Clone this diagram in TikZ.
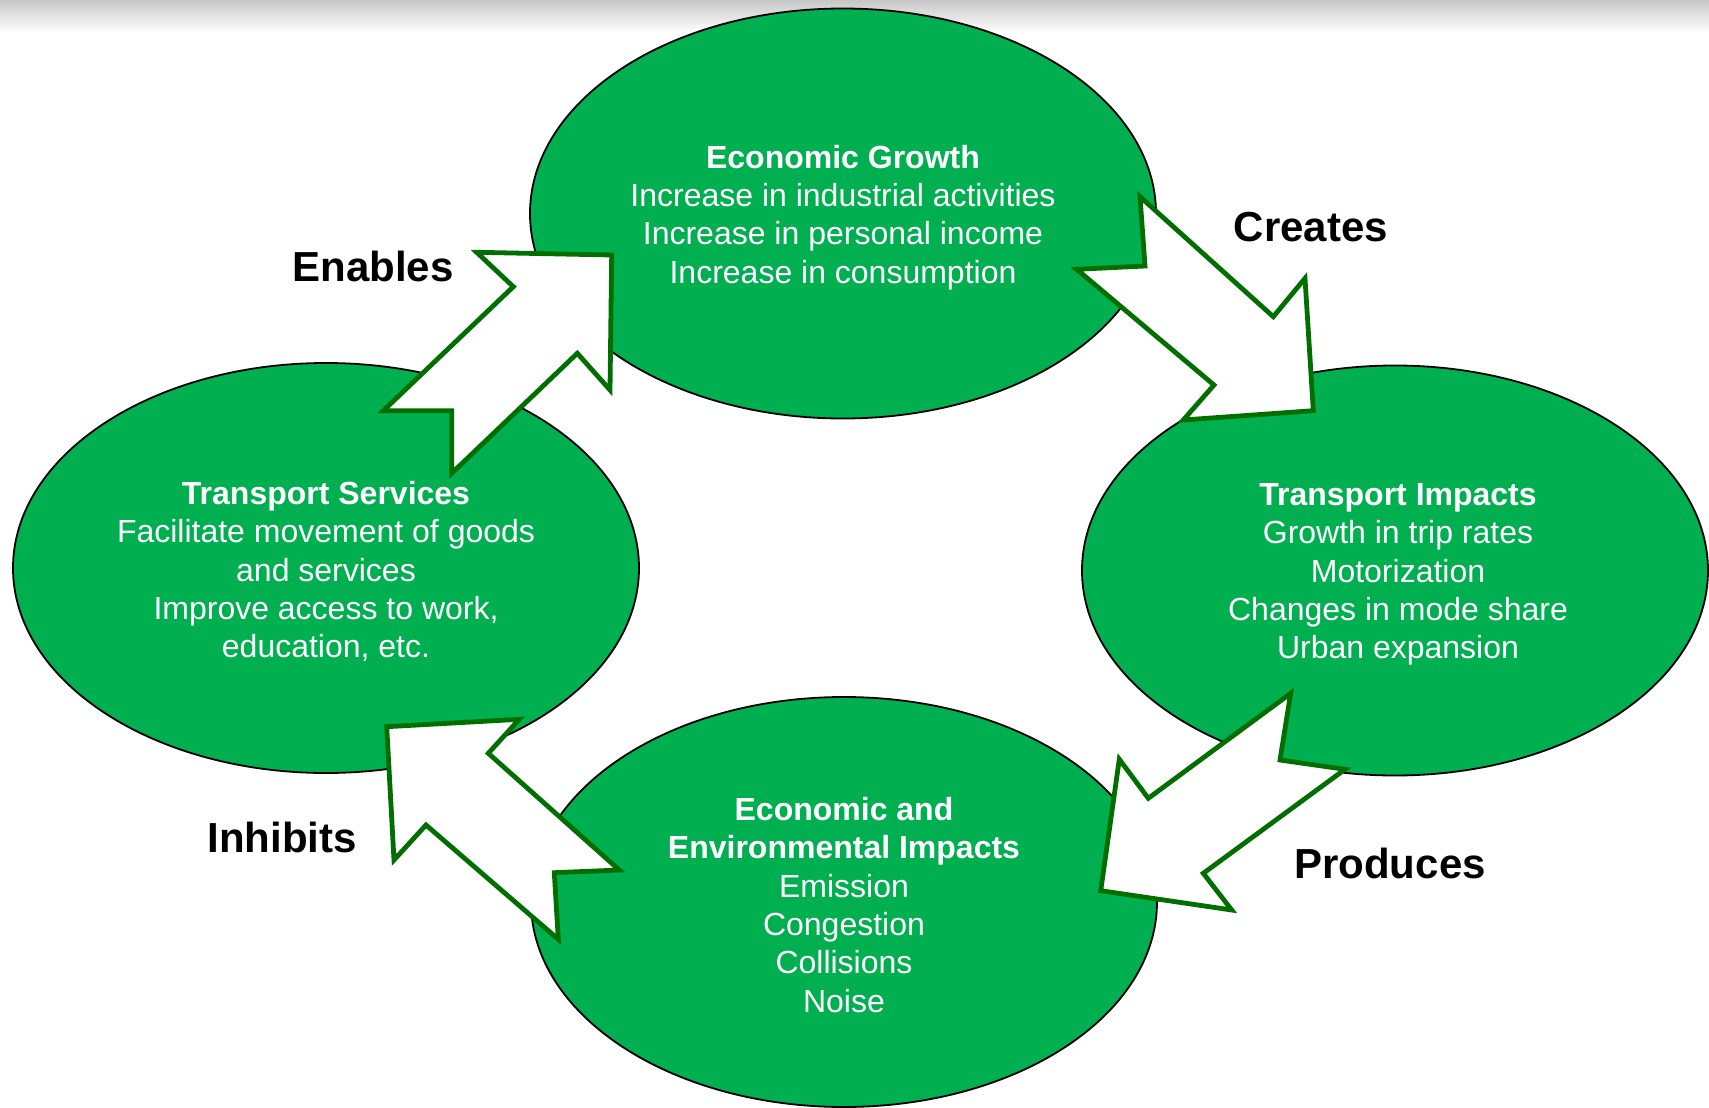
\documentclass[tikz,border=0pt]{standalone}
\usepackage{fontspec}
\setmainfont{Liberation Sans}
\usetikzlibrary{shapes.geometric}
\definecolor{leaf}{HTML}{00AF50}
\definecolor{rim}{HTML}{006F00}
\begin{document}
\begin{tikzpicture}[x=1pt,y=-1pt,
  bubble/.style={ellipse, draw=black, line width=1.8pt, fill=leaf,
    minimum width=626pt, minimum height=410pt, inner sep=0pt},
  body/.style={text=white, align=center, font=\fontsize{32}{38.3}\selectfont},
  verb/.style={text=black, font=\bfseries\fontsize{42}{50}\selectfont},
  blockarrow/.style={draw=rim, fill=white, line width=4.8pt, line join=miter}]

% canvas and top fade
\fill[white] (0,0) rectangle (1709,1108);
\useasboundingbox (0,0) rectangle (1709,1108);
\shade[top color=black!22, bottom color=white] (0,0) rectangle (1709,32);

% the four stages
\node[bubble] (growth) at (843,213.5) {};
\node[bubble] (services) at (326,568) {};
\node[bubble] (impacts) at (1395,570.5) {};
\node[bubble] (effects) at (844,902) {};

% block arrows between stages
\path[blockarrow] (476.7,252.3) -- (611.7,255) -- (610,390) -- (577.3,353.3)
  -- (451.7,473.3) -- (451.7,410.7) -- (383.3,410.7) -- (513.3,286.7) -- cycle;
\path[blockarrow] (1140,196.7) -- (1273.3,316.7) -- (1305,278.3) -- (1313.3,410.7)
  -- (1183.3,420) -- (1214,385) -- (1076.7,269.3) -- (1145,266) -- cycle;
\path[blockarrow] (1290.7,693.3) -- (1280,760) -- (1345,769.3) -- (1203.3,873.3)
  -- (1231.7,910) -- (1100.7,890.7) -- (1119.3,759.3) -- (1148.3,798.3) -- cycle;
\path[blockarrow] (386.7,726.7) -- (519.3,719.3) -- (488.3,753.3) -- (619.3,870)
  -- (554.3,872.7) -- (558.3,939.3) -- (426,825) -- (394,860) -- cycle;

% stage texts
\node[body] (growthtxt) at ([yshift=-4pt]growth.center) {\textbf{Economic Growth}\\Increase in industrial activities\\Increase in personal income\\Increase in consumption};
\node[body] (servicestxt) at ([yshift=-3.5pt]services.center) {\textbf{Transport Services}\\Facilitate movement of goods\\and services\\Improve access to work,\\education, etc.};
\node[body] (impactstxt) at ([xshift=3pt,yshift=-4pt]impacts.center) {\textbf{Transport Impacts}\\Growth in trip rates\\Motorization\\Changes in mode share\\Urban expansion};
\node[body] (effectstxt) at ([yshift=-3pt]effects.center) {\textbf{Economic and}\\\textbf{Environmental Impacts}\\Emission\\Congestion\\Collisions\\Noise};

% relation labels
\node[verb] (enables) at (373,266) {Enables};
\node[verb] (creates) at (1311,227) {Creates};
\node[verb] (inhibits) at (282,837) {Inhibits};
\node[verb] (produces) at (1390,863) {Produces};
\end{tikzpicture}
\end{document}
